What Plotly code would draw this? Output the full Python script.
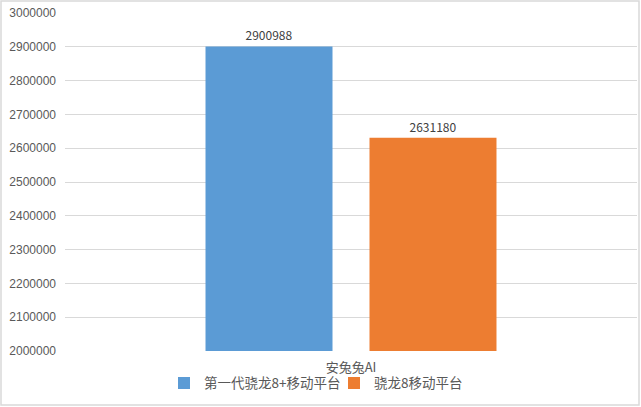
import plotly.graph_objects as go

categories = ["安兔兔AI"]
series_names = ["第一代骁龙8+移动平台", "骁龙8移动平台"]
series_values = [[2900988], [2631180]]
series_colors = ["#5B9BD5", "#ED7D31"]
y_ticks = list(range(2000000, 3000001, 100000))

fig = go.Figure()
for name, vals, col in zip(series_names, series_values, series_colors):
    fig.add_trace(go.Bar(
        x=categories, y=vals, name=name, marker_color=col,
        marker_line_width=0,
        text=[str(v) for v in vals], textposition="outside",
        textfont=dict(size=12, color="#404040"),
        cliponaxis=False,
    ))

fig.update_layout(
    width=641, height=407,
    margin=dict(l=65, r=4, t=13, b=56, autoexpand=False),
    paper_bgcolor="white", plot_bgcolor="white",
    barmode="group", bargap=0.4266, bargroupgap=0.2256,
    font=dict(family="Noto Sans CJK SC, Liberation Sans, sans-serif", color="#595959", size=12),
    showlegend=True,
    legend=dict(orientation="h", x=(164 - 65) / 572, xanchor="left", y=-0.095, yanchor="middle",
                bgcolor="rgba(0,0,0,0)",
                font=dict(size=13.5, color="#595959"), itemwidth=30, traceorder="normal",
                tracegroupgap=0, entrywidth=125, entrywidthmode="pixels"),
    yaxis=dict(range=[2000000, 3000000], tickvals=y_ticks, ticktext=[str(t) for t in y_ticks],
               showgrid=True, gridcolor="#D9D9D9", gridwidth=1, zeroline=False,
               showline=False, ticks="", automargin=False,
               tickfont=dict(size=12, color="#595959", family="Liberation Sans, sans-serif"),
               ticklabelstandoff=8),
    xaxis=dict(showgrid=False, showline=False, ticks="", automargin=False,
               tickfont=dict(size=13, color="#595959"), ticklabelstandoff=7),
    shapes=[dict(type="rect", xref="paper", yref="paper",
                 x0=-64/572, x1=(641-65-2)/572, y0=-(407-351-2)/338, y1=(351-1)/338,
                 line=dict(color="#D9D9D9", width=1.5), fillcolor="rgba(0,0,0,0)", layer="below")],
)

fig.write_html("out.html", config={"displayModeBar": False},
               post_script="document.body.style.margin='0px';document.body.style.overflow='hidden';")
